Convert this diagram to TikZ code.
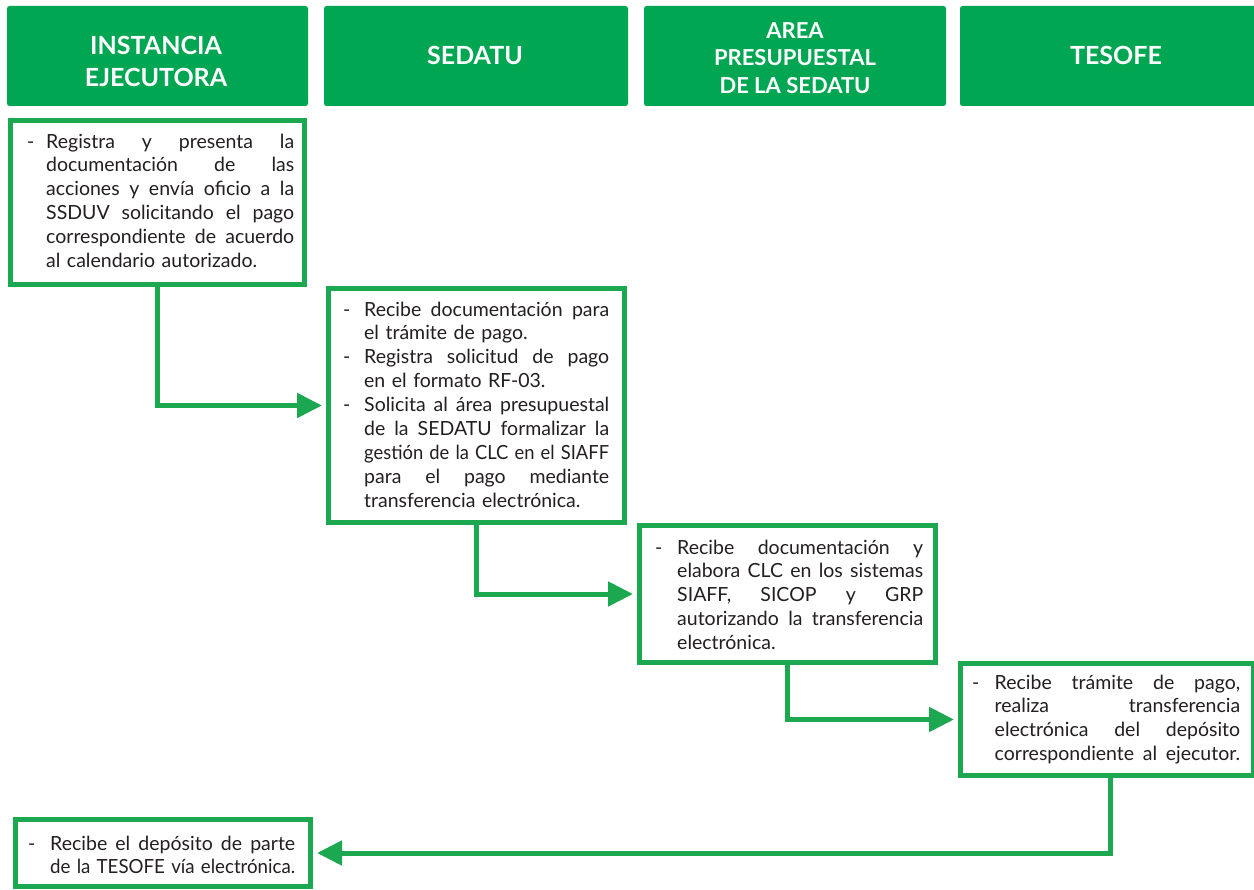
\documentclass[tikz,border=0pt]{standalone}
\usepackage{fontspec}
\usepackage{graphicx}
\setmainfont{Lato}
\usetikzlibrary{arrows.meta}
\definecolor{hdrgreen}{RGB}{0,166,81}
\definecolor{boxgreen}{RGB}{28,168,80}
\definecolor{ink}{RGB}{35,31,32}
\newlength\dw
\newlength\tw
\newcommand\JL[2]{\par\noindent\rule{0pt}{19pt}\makebox[\dw][l]{#1}\sbox0{#2}\ifdim\wd0>\tw\resizebox{\tw}{\height}{#2}\else\hbox to\tw{\spaceskip=\fontdimen2\font plus 1fil\relax #2}\fi}
\newcommand\NL[2]{\par\noindent\rule{0pt}{19pt}\makebox[\dw][l]{#1}\sbox0{#2}\ifdim\wd0>\tw\resizebox{\tw}{\height}{#2}\else\usebox0\fi}
\begin{document}
\begin{tikzpicture}[x=1pt,y=-1pt,
  hdr/.style={fill=hdrgreen, rounded corners=2.5pt, inner sep=0pt, minimum height=100pt},
  hdrtxt/.style 2 args={text=white, inner sep=0pt, align=center, font=\fontsize{#1}{#2}\selectfont\bfseries},
  box/.style={draw=boxgreen, line width=5pt, fill=white, inner sep=0pt},
  txt/.style={anchor=north west, inner sep=0pt, text=ink, text width=300pt, font=\fontsize{19.5}{#1}\selectfont},
  txt/.default=23.9,
  flow/.style={draw=boxgreen, line width=5pt, -{Triangle[length=25pt,width=24pt]}, shorten >=4pt}]
\useasboundingbox (0,0) rectangle (1254,890);
% headers
\node[hdr, minimum width=301pt] (h1) at (157.5,56) {};
\node[hdr, minimum width=304pt] (h2) at (476,56) {};
\node[hdr, minimum width=302pt] (h3) at (795,56) {};
\node[hdr, minimum width=298pt] (h4) at (1109,56) {};
\node[hdrtxt={25}{32}] (h1t) at (156,61.5) {INSTANCIA\\EJECUTORA};
\node[hdrtxt={25}{30}] (h2t) at (475,55) {SEDATU};
\node[hdrtxt={22}{27.5}] (h3t) at (795,58) {AREA\\PRESUPUESTAL\\DE LA SEDATU};
\node[hdrtxt={25}{30}] (h4t) at (1116,55) {TESOFE};
% boxes
\node[box, minimum width=294pt, minimum height=164pt] (b1) at (157.5,202.5) {};
\node[box, minimum width=296pt, minimum height=234pt] (b2) at (476.5,405.5) {};
\node[box, minimum width=296pt, minimum height=137pt] (b3) at (787.5,594) {};
\node[box, minimum width=293pt, minimum height=112pt] (b4) at (1107,719.5) {};
\node[box, minimum width=295pt, minimum height=67pt] (b5) at (163,853) {};
% connectors
\draw[flow] (b1.south) |- (b2.west);
\draw[flow] (b2.south) |- (b3.west);
\draw[flow] (b3.south) |- (b4.west);
\draw[flow] ([xshift=3pt]b4.south) |- (b5.east);
% texts
\node[txt] (t1) at (27,124) {\setlength\dw{19pt}\setlength\tw{248pt}%
\JL{-}{Registra y presenta la}
\JL{}{documentación de las}
\JL{}{acciones y envía oficio a la}
\JL{}{SSDUV solicitando el pago}
\JL{}{correspondiente de acuerdo}
\NL{}{al calendario autorizado.}};
\node[txt] (t2) at (343,292) {\setlength\dw{21pt}\setlength\tw{245pt}%
\JL{-}{Recibe documentación para}
\NL{}{el trámite de pago.}
\JL{-}{Registra solicitud de pago}
\NL{}{en el formato RF-03.}
\JL{-}{Solicita al área presupuestal}
\JL{}{de la SEDATU formalizar la}
\JL{}{gestión de la CLC en el SIAFF}
\JL{}{para el pago mediante}
\NL{}{transferencia electrónica.}};
\node[txt] (t3) at (655,530) {\setlength\dw{22pt}\setlength\tw{246pt}%
\JL{-}{Recibe documentación y}
\JL{}{elabora CLC en los sistemas}
\JL{}{SIAFF, SICOP y GRP}
\JL{}{autorizando la transferencia}
\NL{}{electrónica.}};
\node[txt] (t4) at (972,665) {\setlength\dw{22.5pt}\setlength\tw{245.5pt}%
\JL{-}{Recibe trámite de pago,}
\JL{}{realiza transferencia}
\JL{}{electrónica del depósito}
\JL{}{correspondiente al ejecutor.}};
\node[txt=21.5] (t5) at (28,828.5) {\setlength\dw{22pt}\setlength\tw{245pt}%
\JL{-}{Recibe el depósito de parte}
\JL{}{de la TESOFE vía electrónica.}};
\end{tikzpicture}
\end{document}
